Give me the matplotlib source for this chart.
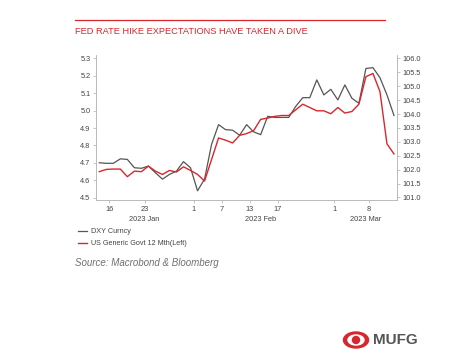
"""Fed rate hike expectations vs DXY, MUFG style."""

import matplotlib

matplotlib.use("Agg")
import matplotlib.pyplot as plt  # noqa: E402
import numpy as np  # noqa: E402
import pandas as pd  # noqa: E402
from matplotlib.lines import Line2D  # noqa: E402
from matplotlib.patches import Ellipse  # noqa: E402

plt.rcParams["font.family"] = ["Liberation Sans", "DejaVu Sans"]

# business days, 13 Jan - 14 Mar 2023
dates = pd.bdate_range("2023-01-13", "2023-03-14")

dxy = [102.25, 102.23, 102.23, 102.39, 102.37, 102.07,
       102.05, 102.13, 101.89, 101.66, 101.83,
       101.95, 102.29, 102.07, 101.24, 101.66,
       102.91, 103.62, 103.44, 103.42, 103.24,
       103.62, 103.36, 103.26, 103.92, 103.88,
       103.88, 103.88, 104.28, 104.59, 104.59,
       105.23, 104.69, 104.89, 104.51, 105.05,
       104.57, 104.39, 105.64, 105.67, 105.31,
       104.69, 103.95]

us12m = [4.649, 4.662, 4.664, 4.664, 4.620, 4.652,
         4.649, 4.681, 4.652, 4.633, 4.656,
         4.647, 4.677, 4.656, 4.633, 4.595,
         4.719, 4.843, 4.830, 4.814, 4.858,
         4.868, 4.885, 4.950, 4.957, 4.967,
         4.972, 4.972, 5.005, 5.037, 5.018,
         4.999, 4.999, 4.982, 5.018, 4.986,
         4.995, 5.037, 5.195, 5.214, 5.110,
         4.809, 4.751]

tick_dates = ["2023-01-16", "2023-01-23", "2023-02-01", "2023-02-07",
              "2023-02-13", "2023-02-17", "2023-03-01", "2023-03-08"]
left_ticks = [4.5, 4.6, 4.7, 4.8, 4.9, 5.0, 5.1, 5.2, 5.3]
right_ticks = [101.0, 101.5, 102.0, 102.5, 103.0, 103.5, 104.0, 104.5, 105.0, 105.5, 106.0]

title = "FED RATE HIKE EXPECTATIONS HAVE TAKEN A DIVE"
source = "Source: Macrobond & Bloomberg"

RED = "#d9262e"
GREY_LINE = "#555555"
SPINE = "#b0b0b0"
TXT = "#444444"

x = np.arange(len(dates))
tick_pos = [dates.get_loc(pd.Timestamp(d)) + 0.45 for d in tick_dates]

fig = plt.figure(figsize=(4.65, 3.61), dpi=100)
fig.patch.set_facecolor("white")

# header rule + title
fig.add_artist(Line2D([75 / 465, 385 / 465], [1 - 19.5 / 361] * 2, color=RED, lw=0.9))
fig.text(75 / 465, 1 - 31 / 361, title, color=RED, fontsize=6.7, va="center", ha="left")

ax = fig.add_axes([96 / 465, 1 - 200 / 361, 301 / 465, 145 / 361])
ax2 = ax.twinx()

ax.plot(x, us12m, color=RED, lw=1.0, zorder=3)
ax2.plot(x, dxy, color=GREY_LINE, lw=0.9, zorder=2)
ax.set_zorder(ax2.get_zorder() + 1)
ax.patch.set_visible(False)

ax.set_xlim(-0.47, len(dates) - 1 + 0.43)
ax.set_ylim(4.486, 5.32)
ax2.set_ylim(100.91, 106.125)

ax.set_yticks(left_ticks)
ax.set_yticklabels([f"{v:.1f}" for v in left_ticks])
ax2.set_yticks(right_ticks)
ax2.set_yticklabels([f"{v:.1f}" for v in right_ticks])
ax.set_xticks(tick_pos)
ax.set_xticklabels([str(pd.Timestamp(d).day) for d in tick_dates])

for a in (ax, ax2):
    a.spines["top"].set_visible(False)
    for s in ("left", "right", "bottom"):
        a.spines[s].set_color(SPINE)
        a.spines[s].set_linewidth(0.6)
    a.tick_params(axis="both", labelsize=5.3, colors=TXT, length=2, width=0.5, pad=2)
    a.tick_params(axis="both", color=SPINE)
ax.spines["right"].set_visible(False)
ax2.spines["left"].set_visible(False)
ax2.spines["bottom"].set_visible(False)

# month labels centred under each month's span
months = pd.Series(x, index=dates).groupby(dates.to_period("M"))
for period, idx in months:
    centre = (idx.min() + idx.max()) / 2 + 0.45
    ax.text(centre, -0.135, period.strftime("%Y %b"), transform=ax.get_xaxis_transform(),
            ha="center", va="center", fontsize=5.3, color=TXT)

handles = [Line2D([], [], color=GREY_LINE, lw=0.9), Line2D([], [], color=RED, lw=1.0)]
fig.legend(handles, ["DXY Curncy", "US Generic Govt 12 Mth(Left)"],
           loc="upper left", bbox_to_anchor=(78 / 465, 1 - 228 / 361),
           frameon=False, fontsize=5.2, handlelength=1.3, handletextpad=0.5,
           labelspacing=0.7, borderpad=0, borderaxespad=0, labelcolor=TXT)

fig.text(75 / 465, 1 - 263 / 361, source, fontsize=7, style="italic",
         color="#707070", va="center", ha="left")

# MUFG logo
cx, cy = 356 / 465, 1 - 340 / 361
fig.add_artist(Ellipse((cx, cy), 25 / 465, 16 / 361, color=RED, transform=fig.transFigure))
fig.add_artist(Ellipse((cx, cy), 16 / 465, 10 / 361, color="white", transform=fig.transFigure))
fig.add_artist(Ellipse((cx, cy), 7 / 465, 7 / 361, color=RED, transform=fig.transFigure))
fig.text(373 / 465, cy, "MUFG", fontsize=11, fontweight="bold", color="#555555",
         va="center", ha="left")

fig.savefig("out.png", dpi=100)
plt.close(fig)
